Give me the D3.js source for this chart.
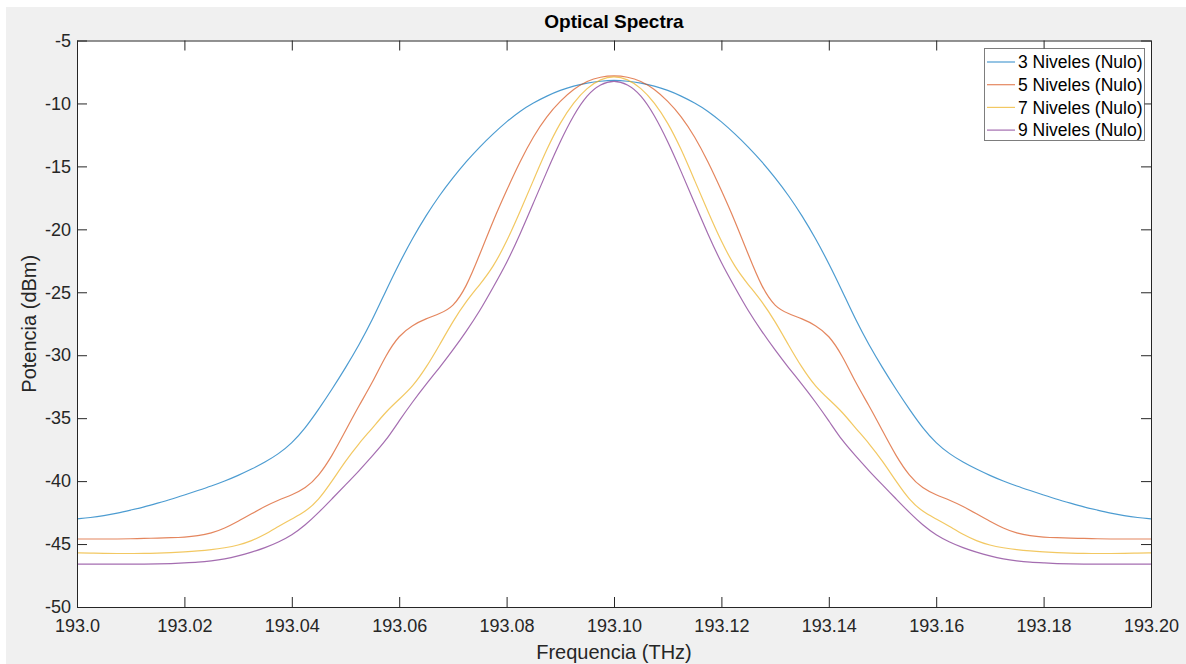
<!DOCTYPE html>
<html>
<head>
<meta charset="utf-8">
<script src="https://cdn.jsdelivr.net/npm/d3@7"></script>
<style>
  html, body { margin: 0; padding: 0; background: #ffffff; }
  svg { display: block; font-family: "Liberation Sans", Arial, sans-serif; }
</style>
</head>
<body>
<svg id="chart" width="1186" height="664"></svg>
<script>
// ---------------- data ----------------
const frequencies = [
  193.0000,193.0025,193.0050,193.0075,193.0100,193.0125,193.0150,193.0175,193.0200,193.0225,
  193.0250,193.0275,193.0300,193.0325,193.0350,193.0375,193.0400,193.0425,193.0450,193.0475,
  193.0500,193.0525,193.0550,193.0575,193.0600,193.0625,193.0650,193.0675,193.0700,193.0725,
  193.0750,193.0775,193.0800,193.0825,193.0850,193.0875,193.0900,193.0925,193.0950,193.0975,
  193.1000,
  193.1025,193.1050,193.1075,193.1100,193.1125,193.1150,193.1175,193.1200,193.1225,193.1250,
  193.1275,193.1300,193.1325,193.1350,193.1375,193.1400,193.1425,193.1450,193.1475,193.1500,
  193.1525,193.1550,193.1575,193.1600,193.1625,193.1650,193.1675,193.1700,193.1725,193.1750,
  193.1775,193.1800,193.1825,193.1850,193.1875,193.1900,193.1925,193.1950,193.1975,193.2000
];

const niveles3 = [
  -43.0,-42.9,-42.75,-42.55,-42.3,-42.05,-41.75,-41.45,-41.1,-40.75,
  -40.4,-40.0,-39.55,-39.05,-38.5,-37.85,-37.0,-35.8,-34.3,-32.7,
  -31.0,-29.2,-27.2,-24.9,-22.7,-20.7,-18.9,-17.3,-15.9,-14.6,
  -13.45,-12.4,-11.45,-10.6,-9.95,-9.4,-8.95,-8.6,-8.38,-8.22,
  -8.15,
  -8.22,-8.38,-8.6,-8.95,-9.4,-9.95,-10.6,-11.45,-12.4,-13.45,
  -14.6,-15.9,-17.3,-18.9,-20.7,-22.7,-24.9,-27.2,-29.2,-31.0,
  -32.7,-34.3,-35.8,-37.0,-37.85,-38.5,-39.05,-39.55,-40.0,-40.4,
  -40.75,-41.1,-41.45,-41.75,-42.05,-42.3,-42.55,-42.75,-42.9,-43.0
];

const niveles5 = [
  -44.6,-44.6,-44.6,-44.6,-44.58,-44.55,-44.53,-44.5,-44.45,-44.35,
  -44.15,-43.75,-43.2,-42.6,-42.0,-41.5,-41.1,-40.6,-39.6,-38.0,
  -36.0,-34.0,-32.2,-30.0,-28.4,-27.6,-27.1,-26.7,-26.2,-24.6,
  -22.0,-19.3,-16.9,-14.6,-12.6,-11.0,-9.8,-8.85,-8.2,-7.88,
  -7.78,
  -7.88,-8.2,-8.85,-9.8,-11.0,-12.6,-14.6,-16.9,-19.3,-22.0,
  -24.6,-26.2,-26.7,-27.1,-27.6,-28.4,-30.0,-32.2,-34.0,-36.0,
  -38.0,-39.6,-40.6,-41.1,-41.5,-42.0,-42.6,-43.2,-43.75,-44.15,
  -44.35,-44.45,-44.5,-44.53,-44.55,-44.58,-44.6,-44.6,-44.6,-44.6
];

const niveles7 = [
  -45.7,-45.72,-45.75,-45.75,-45.75,-45.75,-45.72,-45.68,-45.62,-45.55,
  -45.45,-45.3,-45.1,-44.75,-44.25,-43.6,-43.0,-42.45,-41.5,-40.0,
  -38.4,-37.0,-35.8,-34.5,-33.5,-32.5,-31.0,-29.2,-27.3,-25.7,
  -24.4,-23.0,-21.0,-18.6,-16.1,-13.6,-11.5,-9.9,-8.75,-8.05,
  -7.82,
  -8.05,-8.75,-9.9,-11.5,-13.6,-16.1,-18.6,-21.0,-23.0,-24.4,
  -25.7,-27.3,-29.2,-31.0,-32.5,-33.5,-34.5,-35.8,-37.0,-38.4,
  -40.0,-41.5,-42.45,-43.0,-43.6,-44.25,-44.75,-45.1,-45.3,-45.45,
  -45.55,-45.62,-45.68,-45.72,-45.75,-45.75,-45.75,-45.75,-45.72,-45.7
];

const niveles9 = [
  -46.6,-46.6,-46.6,-46.6,-46.6,-46.6,-46.58,-46.55,-46.5,-46.45,
  -46.35,-46.2,-45.95,-45.65,-45.3,-44.85,-44.3,-43.5,-42.5,-41.4,
  -40.3,-39.2,-38.0,-36.8,-35.2,-33.7,-32.3,-31.0,-29.6,-28.1,
  -26.5,-24.6,-22.7,-20.4,-17.9,-15.4,-13.0,-10.9,-9.3,-8.45,
  -8.15,
  -8.45,-9.3,-10.9,-13.0,-15.4,-17.9,-20.4,-22.7,-24.6,-26.5,
  -28.1,-29.6,-31.0,-32.3,-33.7,-35.2,-36.8,-38.0,-39.2,-40.3,
  -41.4,-42.5,-43.5,-44.3,-44.85,-45.3,-45.65,-45.95,-46.2,-46.35,
  -46.45,-46.5,-46.55,-46.58,-46.6,-46.6,-46.6,-46.6,-46.6,-46.6
];

const seriesNames = ["3 Niveles (Nulo)", "5 Niveles (Nulo)", "7 Niveles (Nulo)", "9 Niveles (Nulo)"];
const seriesColors = ["#0072BD", "#D95319", "#EDB120", "#7E2F8E"];

const xTickValues = [193.00,193.02,193.04,193.06,193.08,193.10,193.12,193.14,193.16,193.18,193.20];
const xTickLabels = ["193.0","193.02","193.04","193.06","193.08","193.10","193.12","193.14","193.16","193.18","193.20"];
const yTickValues = [-50,-45,-40,-35,-30,-25,-20,-15,-10,-5];

const titleText = "Optical Spectra";
const xLabelText = "Frequencia (THz)";
const yLabelText = "Potencia (dBm)";

// ---------------- layout ----------------
const W = 1186, H = 664;
const plot = { left: 77, right: 1151, top: 40.5, bottom: 607 };
const svg = d3.select("#chart");

svg.append("rect").attr("x", 6).attr("y", 7).attr("width", W - 6).attr("height", H - 7).attr("fill", "#f0f0f0");
svg.append("rect")
  .attr("x", plot.left).attr("y", plot.top)
  .attr("width", plot.right - plot.left).attr("height", plot.bottom - plot.top)
  .attr("fill", "#ffffff");

const x = d3.scaleLinear().domain([193.0, 193.2]).range([plot.left, plot.right]);
const y = d3.scaleLinear().domain([-50, -5]).range([plot.bottom, plot.top]);

const axisColor = "#262626";
const tickFont = 18;

function styleAxis(g) {
  g.selectAll("path.domain").attr("stroke", axisColor).attr("stroke-width", 1);
  g.selectAll(".tick line").attr("stroke", axisColor).attr("stroke-width", 1);
  g.selectAll(".tick text").attr("fill", "#262626").style("font-size", tickFont + "px")
    .style("font-family", '"Liberation Sans", Arial, sans-serif');
}

// series lines
const seriesData = [niveles3, niveles5, niveles7, niveles9];
const line = d3.line().x((d, i) => x(frequencies[i])).y(d => y(d)).curve(d3.curveBasis);
const clipId = "plotclip";
svg.append("clipPath").attr("id", clipId).append("rect")
  .attr("x", plot.left).attr("y", plot.top)
  .attr("width", plot.right - plot.left).attr("height", plot.bottom - plot.top);
const lines = svg.append("g").attr("clip-path", `url(#${clipId})`);
seriesData.forEach((vals, si) => {
  lines.append("path")
    .datum(vals)
    .attr("fill", "none")
    .attr("stroke", seriesColors[si])
    .attr("stroke-opacity", 0.7)
    .attr("stroke-width", 1.2)
    .attr("d", line);
});

// axes
const gx = svg.append("g").attr("transform", `translate(0,${plot.bottom})`)
  .call(d3.axisBottom(x).tickValues(xTickValues).tickFormat((d, i) => xTickLabels[i])
    .tickSizeInner(-10).tickSizeOuter(0).tickPadding(12));
styleAxis(gx);
gx.selectAll(".tick text").attr("dy", "0.71em");

const gxTop = svg.append("g").attr("transform", `translate(0,${plot.top})`)
  .call(d3.axisTop(x).tickValues(xTickValues).tickFormat("").tickSizeInner(-10).tickSizeOuter(0));
styleAxis(gxTop);

const gy = svg.append("g").attr("transform", `translate(${plot.left},0)`)
  .call(d3.axisLeft(y).tickValues(yTickValues).tickFormat(d => d3.format("d")(d).replace("\u2212", "-"))
    .tickSizeInner(-10).tickSizeOuter(0).tickPadding(6));
styleAxis(gy);

const gyRight = svg.append("g").attr("transform", `translate(${plot.right},0)`)
  .call(d3.axisRight(y).tickValues(yTickValues).tickFormat("").tickSizeInner(-10).tickSizeOuter(0));
styleAxis(gyRight);

// title & labels
svg.append("text").attr("x", (plot.left + plot.right) / 2).attr("y", 28)
  .attr("text-anchor", "middle").attr("font-weight", "bold").attr("font-size", 19)
  .attr("fill", "#000").text(titleText);
svg.append("text").attr("x", (plot.left + plot.right) / 2).attr("y", 659)
  .attr("text-anchor", "middle").attr("font-size", 20).attr("fill", "#262626").text(xLabelText);
svg.append("text").attr("transform", `translate(36,${(plot.top + plot.bottom) / 2}) rotate(-90)`)
  .attr("text-anchor", "middle").attr("font-size", 20).attr("fill", "#262626").text(yLabelText);

// legend
const leg = { x: 984, y: 48, w: 160, h: 92 };
svg.append("rect").attr("x", leg.x + 0.5).attr("y", leg.y + 0.5).attr("width", leg.w).attr("height", leg.h)
  .attr("fill", "#ffffff").attr("stroke", "#262626").attr("stroke-width", 1).attr("stroke-opacity", 0.6);
seriesNames.forEach((name, i) => {
  const cy = 62 + i * 22.7;
  svg.append("line").attr("x1", 987).attr("x2", 1015).attr("y1", cy).attr("y2", cy)
    .attr("stroke", seriesColors[i]).attr("stroke-opacity", 0.7).attr("stroke-width", 1.2);
  svg.append("text").attr("x", 1018).attr("y", cy).attr("dy", "0.35em")
    .attr("font-size", 17.5).attr("fill", "#000").text(name);
});
</script>
</body>
</html>
